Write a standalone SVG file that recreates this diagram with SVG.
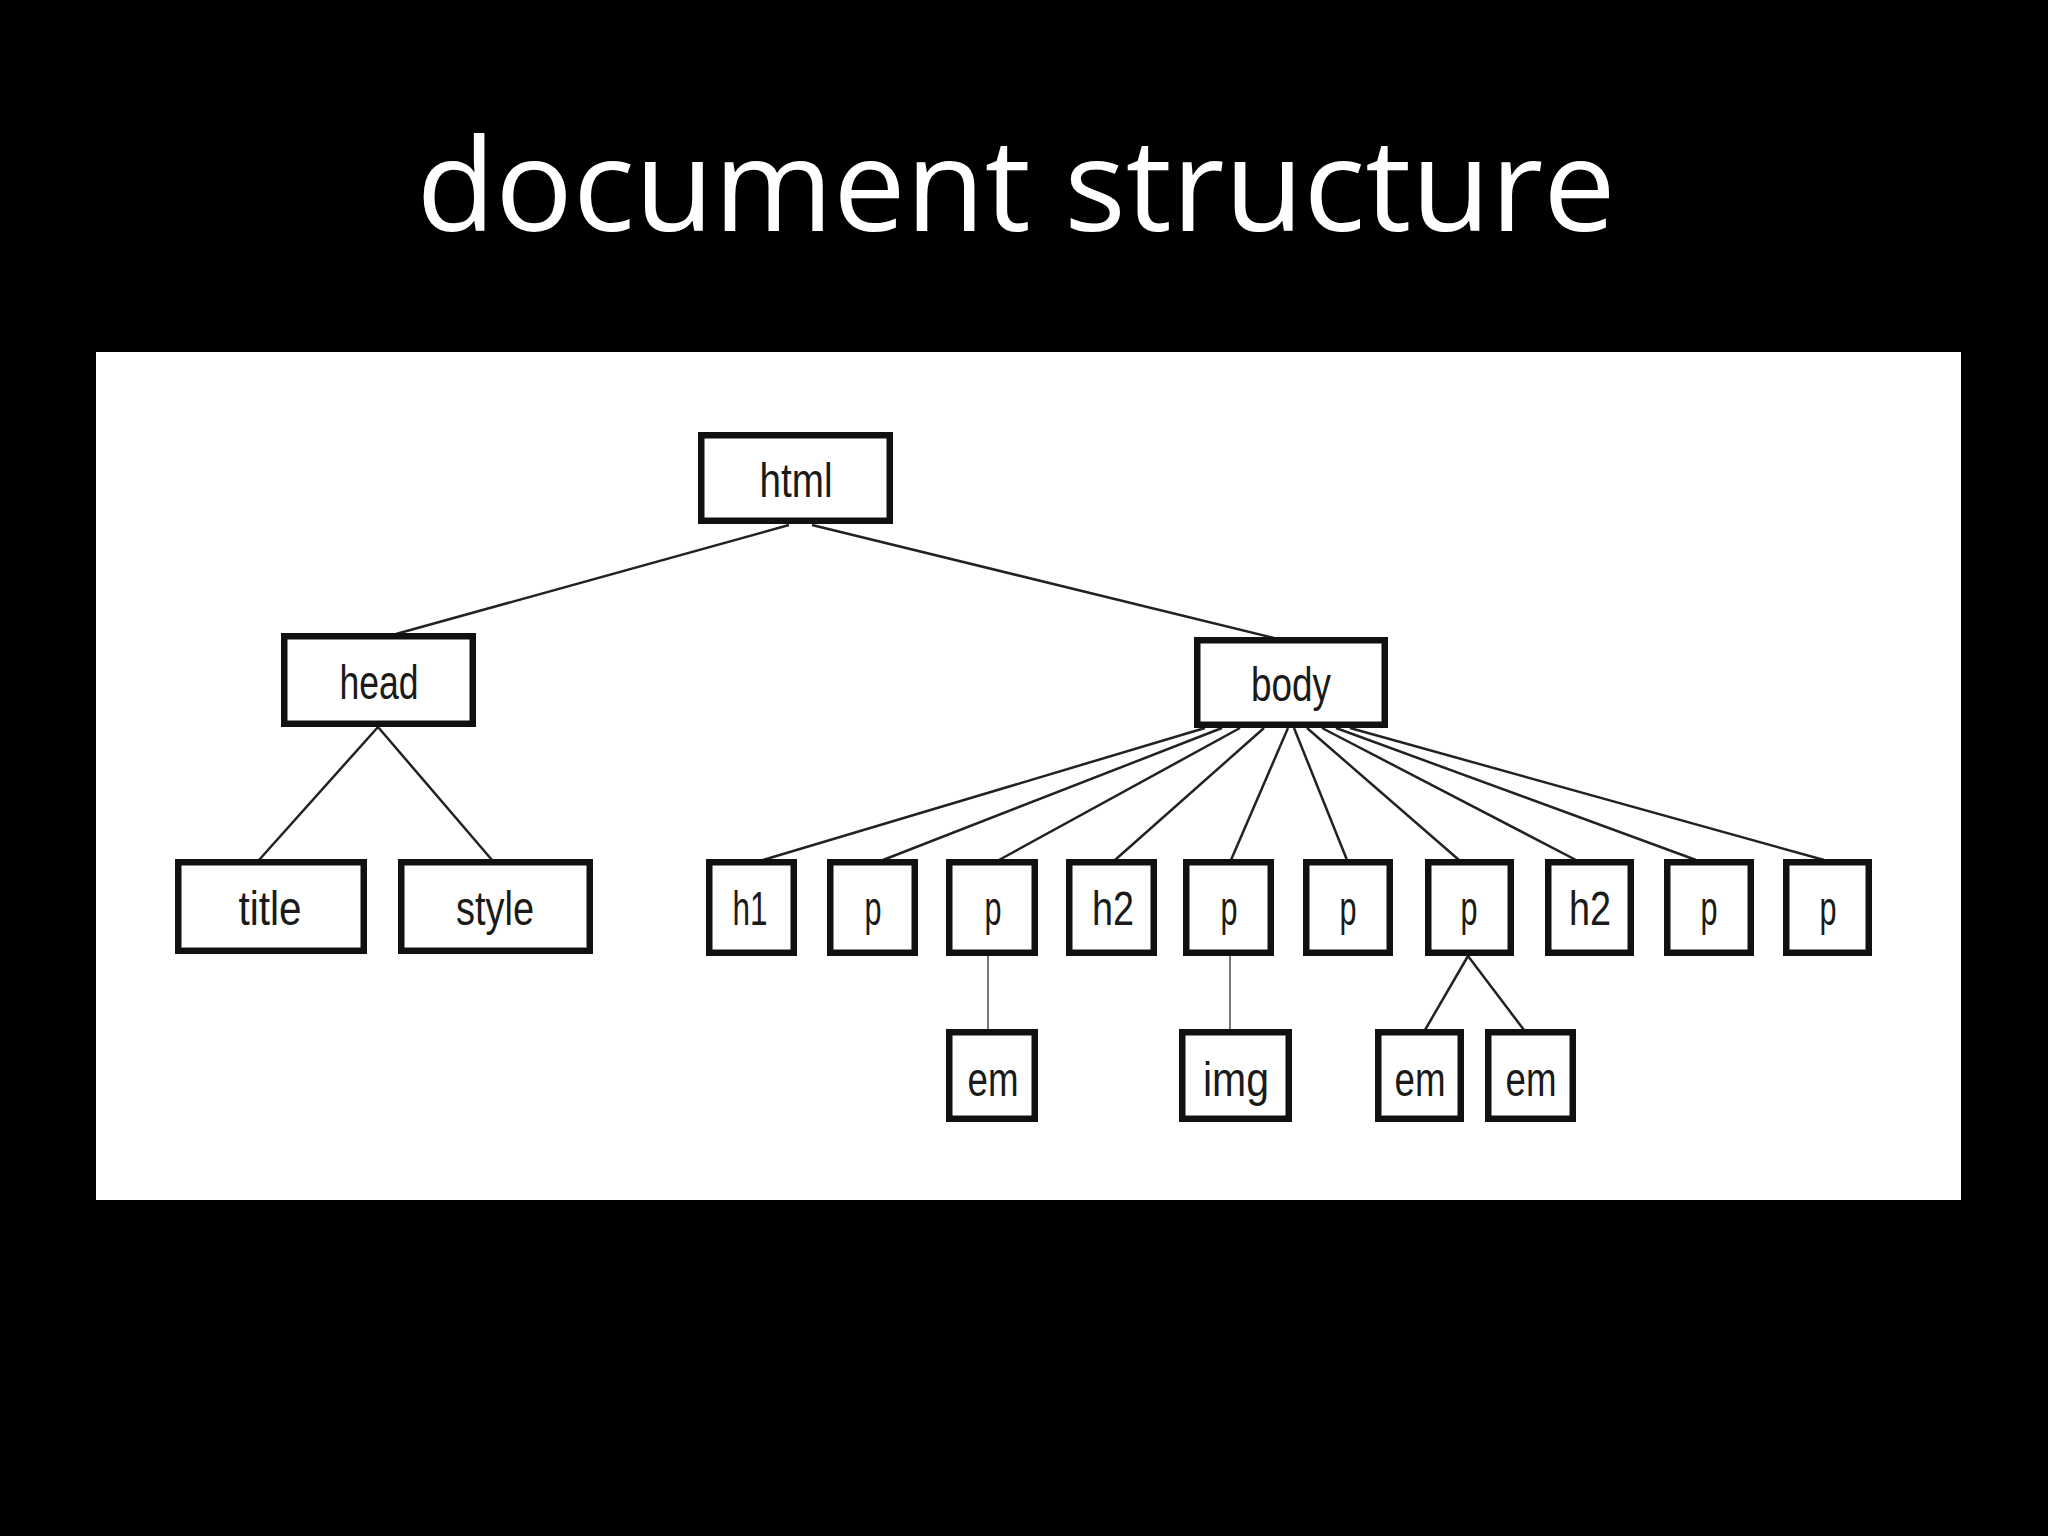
<svg xmlns="http://www.w3.org/2000/svg" width="2048" height="1536" viewBox="0 0 2048 1536">
<defs>
<style>
.box { fill: #ffffff; stroke: #111111; stroke-width: 6.5; }
.lbl { font-family: "Liberation Sans", Arial, sans-serif; font-size: 48px; fill: #1a1a1a; text-anchor: middle; }
.edge { stroke: #222222; stroke-width: 2.5; fill: none; }
.vedge { stroke: #777777; stroke-width: 2; fill: none; }
</style>
</defs>
<rect x="0" y="0" width="2048" height="1536" fill="#000000"/>
<text x="1016" y="231" font-family="'Open Sans', 'DejaVu Sans', sans-serif" font-size="129" fill="#ffffff" text-anchor="middle">document structure</text>
<rect x="96" y="352" width="1865" height="848" fill="#ffffff"/>

<g id="connectors">
  <line class="edge" x1="789" y1="525" x2="396" y2="634"/>
  <line class="edge" x1="812" y1="525" x2="1274" y2="638"/>
  <line class="edge" x1="378" y1="727" x2="259" y2="860"/>
  <line class="edge" x1="378" y1="727" x2="492" y2="860"/>
  <line class="edge" x1="1205" y1="728" x2="763" y2="860"/>
  <line class="edge" x1="1222" y1="728" x2="883" y2="860"/>
  <line class="edge" x1="1240" y1="728" x2="999" y2="860"/>
  <line class="edge" x1="1264" y1="728" x2="1115" y2="860"/>
  <line class="edge" x1="1288" y1="728" x2="1231" y2="860"/>
  <line class="edge" x1="1294" y1="728" x2="1347" y2="860"/>
  <line class="edge" x1="1307" y1="728" x2="1459" y2="860"/>
  <line class="edge" x1="1322" y1="728" x2="1576" y2="860"/>
  <line class="edge" x1="1336" y1="728" x2="1696" y2="860"/>
  <line class="edge" x1="1350" y1="728" x2="1824" y2="860"/>
  <line class="vedge" x1="988" y1="956" x2="988" y2="1030"/>
  <line class="vedge" x1="1230" y1="956" x2="1230" y2="1030"/>
  <line class="edge" x1="1468" y1="956" x2="1425" y2="1030"/>
  <line class="edge" x1="1468" y1="956" x2="1524" y2="1030"/>
</g>

<g id="n-html"><rect class="box" x="701.25" y="435.25" width="188.5" height="85.5"/><text class="lbl" x="796" y="497" textLength="73" lengthAdjust="spacingAndGlyphs">html</text></g>
<g id="n-head"><rect class="box" x="284.25" y="636.25" width="188.5" height="87.5"/><text class="lbl" x="379" y="699" textLength="79" lengthAdjust="spacingAndGlyphs">head</text></g>
<g id="n-body"><rect class="box" x="1197.25" y="640.25" width="187.5" height="84.5"/><text class="lbl" x="1291" y="701" textLength="80" lengthAdjust="spacingAndGlyphs">body</text></g>
<g id="n-title"><rect class="box" x="178.25" y="862.25" width="185.5" height="88.5"/><text class="lbl" x="270" y="925" textLength="63" lengthAdjust="spacingAndGlyphs">title</text></g>
<g id="n-style"><rect class="box" x="401.25" y="862.25" width="188.5" height="88.5"/><text class="lbl" x="495" y="925" textLength="78" lengthAdjust="spacingAndGlyphs">style</text></g>

<g id="n-h1"><rect class="box" x="709.25" y="862.25" width="84.5" height="90.5"/><text class="lbl" x="750" y="925" textLength="35" lengthAdjust="spacingAndGlyphs">h1</text></g>
<g id="n-p1"><rect class="box" x="830.25" y="862.25" width="84.5" height="90.5"/><text class="lbl" x="873" y="925" textLength="17" lengthAdjust="spacingAndGlyphs">p</text></g>
<g id="n-p2"><rect class="box" x="949.25" y="862.25" width="85.5" height="90.5"/><text class="lbl" x="993" y="925" textLength="17" lengthAdjust="spacingAndGlyphs">p</text></g>
<g id="n-h2a"><rect class="box" x="1069.25" y="862.25" width="84.5" height="90.5"/><text class="lbl" x="1113" y="925" textLength="42" lengthAdjust="spacingAndGlyphs">h2</text></g>
<g id="n-p3"><rect class="box" x="1186.25" y="862.25" width="84.5" height="90.5"/><text class="lbl" x="1229" y="925" textLength="17" lengthAdjust="spacingAndGlyphs">p</text></g>
<g id="n-p4"><rect class="box" x="1306.25" y="862.25" width="83.5" height="90.5"/><text class="lbl" x="1348" y="925" textLength="17" lengthAdjust="spacingAndGlyphs">p</text></g>
<g id="n-p5"><rect class="box" x="1428.25" y="862.25" width="82.5" height="90.5"/><text class="lbl" x="1469" y="925" textLength="17" lengthAdjust="spacingAndGlyphs">p</text></g>
<g id="n-h2b"><rect class="box" x="1548.25" y="862.25" width="82.5" height="90.5"/><text class="lbl" x="1590" y="925" textLength="42" lengthAdjust="spacingAndGlyphs">h2</text></g>
<g id="n-p6"><rect class="box" x="1667.25" y="862.25" width="83.5" height="90.5"/><text class="lbl" x="1709" y="925" textLength="17" lengthAdjust="spacingAndGlyphs">p</text></g>
<g id="n-p7"><rect class="box" x="1786.25" y="862.25" width="82.5" height="90.5"/><text class="lbl" x="1828" y="925" textLength="17" lengthAdjust="spacingAndGlyphs">p</text></g>

<g id="n-em1"><rect class="box" x="949.25" y="1032.25" width="85.5" height="86.5"/><text class="lbl" x="993" y="1096" textLength="51" lengthAdjust="spacingAndGlyphs">em</text></g>
<g id="n-img"><rect class="box" x="1182.25" y="1032.25" width="106.5" height="86.5"/><text class="lbl" x="1236" y="1096" textLength="66" lengthAdjust="spacingAndGlyphs">img</text></g>
<g id="n-em2"><rect class="box" x="1378.25" y="1032.25" width="82.5" height="86.5"/><text class="lbl" x="1420" y="1096" textLength="51" lengthAdjust="spacingAndGlyphs">em</text></g>
<g id="n-em3"><rect class="box" x="1488.25" y="1032.25" width="84.5" height="86.5"/><text class="lbl" x="1531" y="1096" textLength="51" lengthAdjust="spacingAndGlyphs">em</text></g>
</svg>
